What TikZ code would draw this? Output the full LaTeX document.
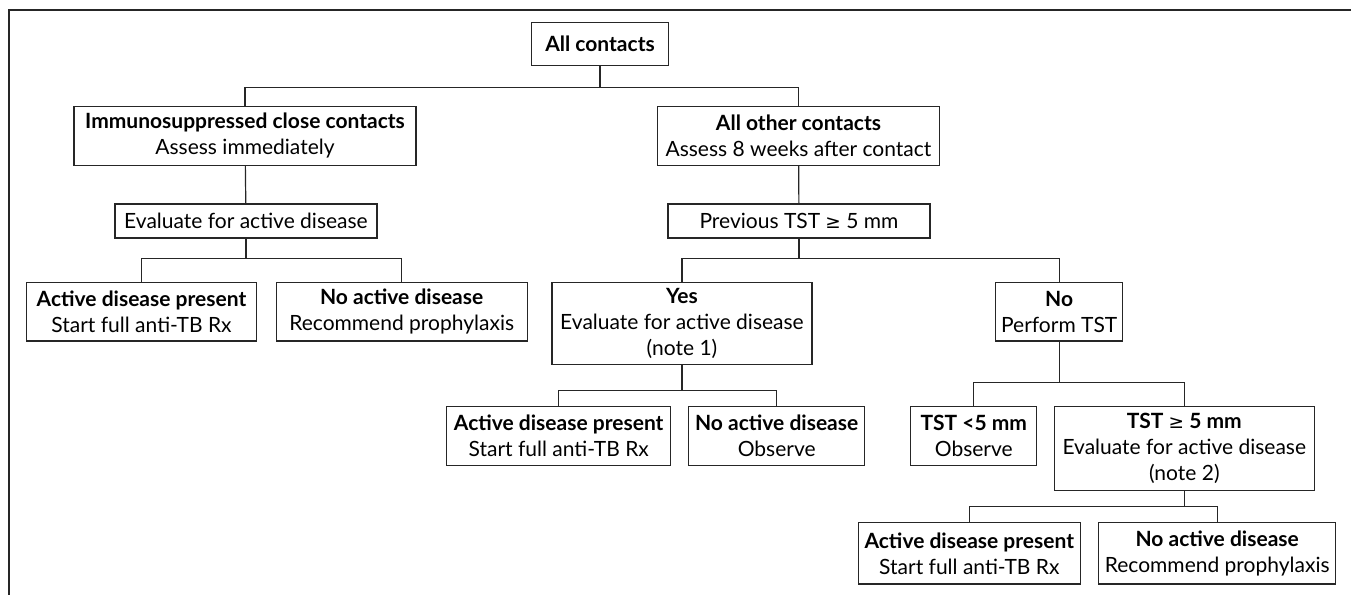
\documentclass[tikz,border=0pt]{standalone}
\usepackage{fontspec}
\setmainfont{Lato}
\newfontfamily\symfont{DejaVu Sans}[Scale=0.88]
\newcommand\gesign{{\symfont\mdseries ≥}}
\begin{document}
\begin{tikzpicture}[x=0.5pt,y=-0.5pt,
    box/.style={draw=black!85,line width=0.6pt,align=center,inner sep=0pt,
        font=\fontsize{10.5}{13}\selectfont},
    link/.style={draw=black!85,line width=0.6pt}]
    \useasboundingbox (0,0) rectangle (1351,595);
    \draw[link] (9,595) -- (9,10) -- (1351,10);

    \node[box,minimum width=68.5pt,minimum height=21.5pt] (allc) at (600,44) {\textbf{All contacts}};
    \node[box,minimum width=171pt,minimum height=29.5pt] (immclose) at (245,135.7) {\textbf{Immunosuppressed close contacts}\\Assess immediately};
    \node[box,minimum width=141pt,minimum height=29.5pt] (othercon) at (798.5,135.7) {\textbf{All other contacts}\\Assess 8 weeks after contact};
    \node[box,minimum width=131pt,minimum height=17pt] (evalimm) at (246,221) {Evaluate for active disease};
    \node[box,minimum width=131pt,minimum height=17pt] (prevtst) at (799,221) {Previous TST \gesign{} 5 mm};
    \node[box,minimum width=115pt,minimum height=29.25pt] (actimm) at (141.5,311.8) {\textbf{Active disease present}\\Start full anti-TB Rx};
    \node[box,minimum width=125.5pt,minimum height=29.25pt] (noactimm) at (401.7,311.8) {\textbf{No active disease}\\Recommend prophylaxis};
    \node[box,minimum width=130pt,minimum height=40.85pt] (prevyes) at (682,323.5) {\textbf{Yes}\\Evaluate for active disease\\(note 1)};
    \node[box,minimum width=63.5pt,minimum height=29.25pt] (prevno) at (1059.2,311.8) {\textbf{No}\\Perform TST};
    \node[box,minimum width=112pt,minimum height=29.3pt] (actyes) at (558.7,436) {\textbf{Active disease present}\\Start full anti-TB Rx};
    \node[box,minimum width=88pt,minimum height=29.3pt] (noactyes) at (776.7,436) {\textbf{No active disease}\\Observe};
    \node[box,minimum width=63pt,minimum height=29.3pt] (tstlow) at (973.8,436) {\textbf{TST <5 mm}\\Observe};
    \node[box,minimum width=130pt,minimum height=42pt] (tsthigh) at (1184.3,448.7) {\textbf{TST \gesign{} 5 mm}\\Evaluate for active disease\\(note 2)};
    \node[box,minimum width=111pt,minimum height=30.65pt] (acttst) at (969.3,553.3) {\textbf{Active disease present}\\Start full anti-TB Rx};
    \node[box,minimum width=118.5pt,minimum height=30.65pt] (noacttst) at (1217.2,553.3) {\textbf{No active disease}\\Recommend prophylaxis};

    % forks
    \coordinate (fork1) at (600,87.7);
    \coordinate (fork2) at (246,258.3);
    \coordinate (fork3) at (799,258.3);
    \coordinate (fork4) at (682,390.7);
    \coordinate (fork5) at (1059.2,382.7);
    \coordinate (fork6) at (1184.3,506.3);

    \draw[link] (allc) -- (fork1) -| (immclose);
    \draw[link] (fork1) -| (othercon);
    \draw[link] (immclose) -- (evalimm);
    \draw[link] (othercon) -- (prevtst);
    \draw[link] (evalimm) -- (fork2) -| (actimm);
    \draw[link] (fork2) -| (noactimm);
    \draw[link] (prevtst) -- (fork3) -| (prevyes);
    \draw[link] (fork3) -| (prevno);
    \draw[link] (prevyes) -- (fork4) -| (actyes);
    \draw[link] (fork4) -| (noactyes);
    \draw[link] (prevno) -- (fork5) -| (tstlow);
    \draw[link] (fork5) -| (tsthigh);
    \draw[link] (tsthigh) -- (fork6) -| (acttst);
    \draw[link] (fork6) -| (noacttst);
\end{tikzpicture}
\end{document}
